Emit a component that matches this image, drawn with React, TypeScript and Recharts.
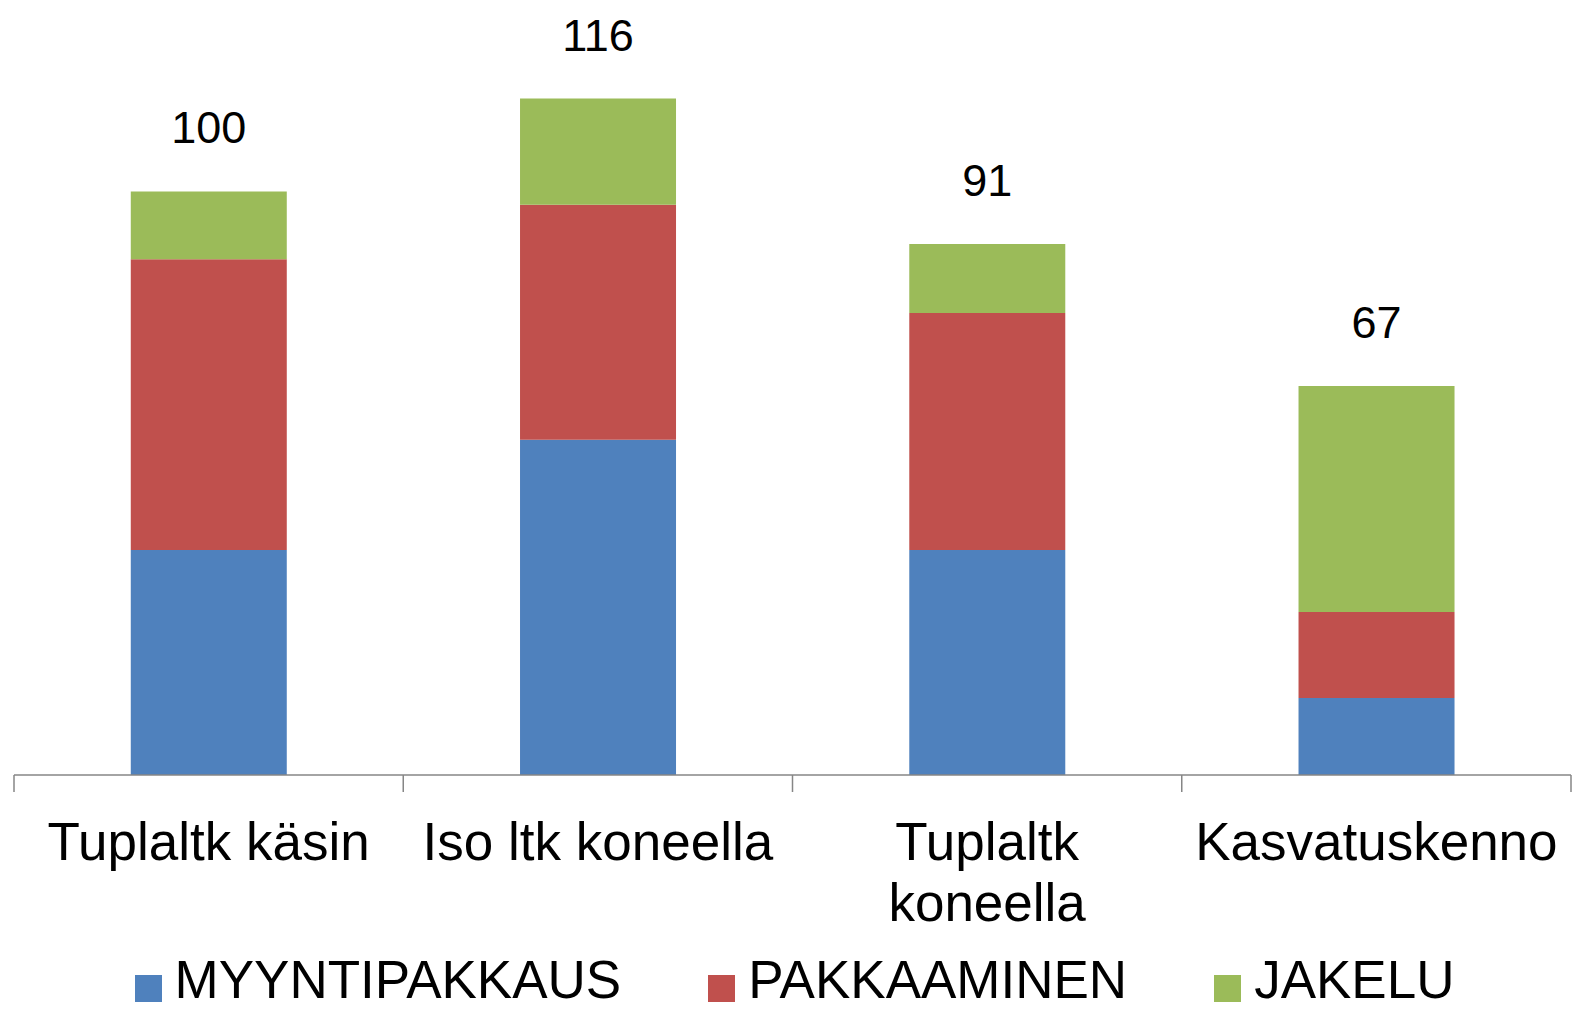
import { BarChart, Bar, XAxis, YAxis, Legend, LabelList } from 'recharts';

const categories = ['Tuplaltk käsin', 'Iso ltk koneella', 'Tuplaltk koneella', 'Kasvatuskenno'];
// how each category label is broken into lines under the axis
const categoryLines = [['Tuplaltk käsin'], ['Iso ltk koneella'], ['Tuplaltk', 'koneella'], ['Kasvatuskenno']];
const myyntipakkaus = [38.5, 57.4, 38.5, 13.2];
const pakkaaminen = [49.8, 40.2, 40.6, 14.7];
const jakelu = [11.6, 18.2, 11.8, 38.7];
const totals = [100, 116, 91, 67];

const series = [
  { key: 'MYYNTIPAKKAUS', values: myyntipakkaus, color: '#4F81BD' },
  { key: 'PAKKAAMINEN', values: pakkaaminen, color: '#C0504D' },
  { key: 'JAKELU', values: jakelu, color: '#9BBB59' },
];

const W = 1573;
const H = 1009;
const MARGIN = { top: 74, right: 2, bottom: 0, left: 14 };
const PLOT_W = W - MARGIN.left - MARGIN.right;
const BAND = PLOT_W / categories.length;
const AXIS = '#868686';
const FONT = '"Liberation Sans", Arial, sans-serif';

const data = categories.map((name, i) => {
  const row: Record<string, string | number> = { name, total: totals[i] };
  series.forEach((s) => {
    row[s.key] = s.values[i];
  });
  return row;
});

function CategoryTick(props: any) {
  const { x, y, index } = props;
  const lines = categoryLines[index] || [];
  return (
    <g>
      <line x1={x - BAND / 2} x2={x - BAND / 2} y1={y} y2={y + 17} stroke={AXIS} strokeWidth={1.5} />
      {index === categories.length - 1 && (
        <line x1={x + BAND / 2} x2={x + BAND / 2} y1={y} y2={y + 17} stroke={AXIS} strokeWidth={1.5} />
      )}
      <text x={x} y={y + 85} textAnchor="middle" fontSize={53} fontFamily={FONT} fill="#000">
        {lines.map((ln, k) => (
          <tspan key={k} x={x} dy={k === 0 ? 0 : 61}>
            {ln}
          </tspan>
        ))}
      </text>
    </g>
  );
}

function TotalLabel(props: any) {
  const { x, y, width, value } = props;
  return (
    <text x={x + width / 2} y={y - 48} textAnchor="middle" fontSize={45} fontFamily={FONT} fill="#000">
      {value}
    </text>
  );
}

function LegendBox() {
  return (
    <div
      style={{
        height: 74,
        paddingTop: 16,
        paddingLeft: 16,
        boxSizing: 'border-box',
        display: 'flex',
        justifyContent: 'center',
        gap: 87,
        fontFamily: FONT,
        fontSize: 53,
        lineHeight: '52px',
        color: '#000',
        whiteSpace: 'nowrap',
      }}
    >
      {series.map((s) => (
        <div key={s.key} style={{ display: 'flex', alignItems: 'center', gap: 13 }}>
          <span
            style={{ width: 27, height: 27, background: s.color, display: 'inline-block', position: 'relative', top: 8 }}
          />
          <span>{s.key}</span>
        </div>
      ))}
    </div>
  );
}

export default function App() {
  return (
    <div style={{ width: W, height: H, background: '#fff', overflow: 'hidden' }}>
      <style>{'body{margin:0}'}</style>
      <BarChart width={W} height={H} data={data} margin={MARGIN} barCategoryGap="30%">
        <XAxis
          dataKey="name"
          height={160}
          interval={0}
          tickSize={0}
          tickMargin={0}
          tickLine={false}
          axisLine={{ stroke: AXIS, strokeWidth: 1.5 }}
          tick={<CategoryTick />}
        />
        <YAxis hide domain={[0, 120]} />
        <Legend verticalAlign="bottom" content={<LegendBox />} wrapperStyle={{ left: 0, width: W }} />
        {series.map((s, i) => (
          <Bar key={s.key} dataKey={s.key} stackId="a" fill={s.color} isAnimationActive={false}>
            {i === series.length - 1 && <LabelList dataKey="total" content={<TotalLabel />} />}
          </Bar>
        ))}
      </BarChart>
    </div>
  );
}
